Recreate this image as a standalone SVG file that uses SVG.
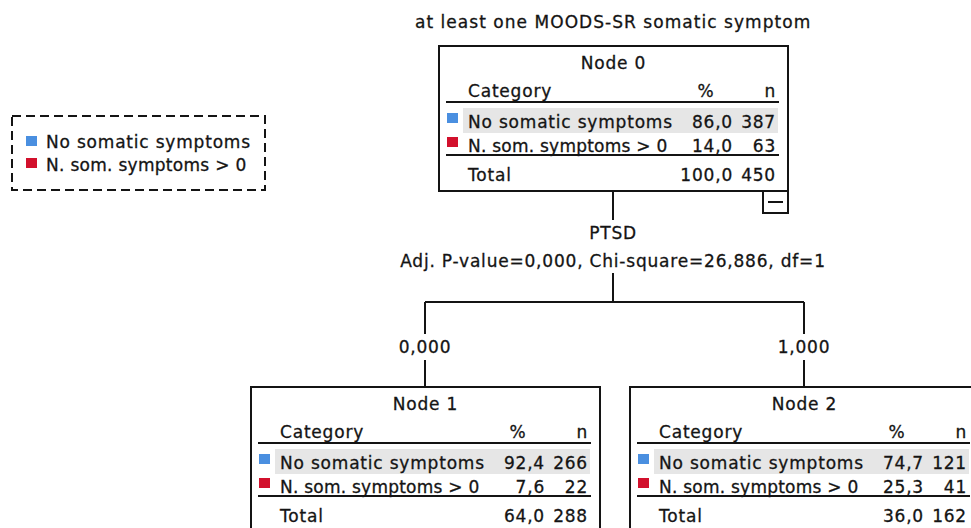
<svg xmlns="http://www.w3.org/2000/svg" width="971" height="528" viewBox="0 0 971 528">
  <style>
    text { font-family: "DejaVu Sans", Verdana, sans-serif; font-size: 17px; fill: #141414; stroke: #141414; stroke-width: 0.3px; letter-spacing: 0.8px; }
    .mid { text-anchor: middle; }
    .end { text-anchor: end; }
    .box { fill: #ffffff; stroke: #141414; stroke-width: 2; }
    .rule { stroke: #141414; stroke-width: 2; }
    .shade { fill: #e6e6e6; }
    .blue { fill: #4a8fe0; }
    .red { fill: #d2102c; }
    .conn { fill: none; stroke: #141414; stroke-width: 2; }
    .legend { fill: #ffffff; stroke: #141414; stroke-width: 2; stroke-dasharray: 9 5; }
  </style>

  <!-- Dependent variable title -->
  <text class="mid" x="613" y="28" textLength="396" lengthAdjust="spacing">at least one MOODS-SR somatic symptom</text>

  <!-- Legend -->
  <g id="legend">
    <rect class="legend" x="12" y="116" width="253" height="74"/>
    <rect class="blue" x="26" y="136" width="11" height="10"/>
    <text x="46" y="148">No somatic symptoms</text>
    <rect class="red" x="26" y="158" width="11" height="10"/>
    <text x="46" y="171" textLength="201" lengthAdjust="spacing">N. som. symptoms &gt; 0</text>
  </g>

  <!-- Connectors -->
  <g id="connectors">
    <path class="conn" d="M613,191 V220"/>
    <path class="conn" d="M613,273 V302 M425,302 H804 M425,302 V334 M804,302 V334"/>
    <path class="conn" d="M425,360 V387 M804,360 V387"/>
    <text class="mid" x="613" y="239">PTSD</text>
    <text class="mid" x="613" y="267">Adj. P-value=0,000, Chi-square=26,886, df=1</text>
    <text class="mid" x="425" y="353">0,000</text>
    <text class="mid" x="804" y="353">1,000</text>
  </g>

  <!-- Node 0 -->
  <g id="node0" transform="translate(439,46)">
    <rect class="box" x="0" y="0" width="349" height="145"/>
    <text class="mid" x="174.5" y="23">Node 0</text>
    <text x="29" y="51">Category</text>
    <text class="mid" x="267" y="51">%</text>
    <text class="end" x="337" y="51">n</text>
    <line class="rule" x1="7" y1="56" x2="340" y2="56"/>
    <rect class="shade" x="24" y="62" width="315" height="25"/>
    <rect class="blue" x="8" y="67" width="11" height="10"/>
    <text x="29" y="82">No somatic symptoms</text>
    <text class="end" x="294" y="82">86,0</text>
    <text class="end" x="337" y="82">387</text>
    <rect class="red" x="8" y="91" width="11" height="10"/>
    <text x="29" y="106" textLength="200" lengthAdjust="spacing">N. som. symptoms &gt; 0</text>
    <text class="end" x="294" y="106">14,0</text>
    <text class="end" x="337" y="106">63</text>
    <line class="rule" x1="7" y1="109" x2="340" y2="109"/>
    <text x="29" y="135">Total</text>
    <text class="end" x="294" y="135">100,0</text>
    <text class="end" x="337" y="135">450</text>
    <!-- collapse toggle -->
    <rect class="box" x="324" y="145" width="25" height="22"/>
    <line class="rule" x1="329" y1="156" x2="344" y2="156"/>
  </g>

  <!-- Node 1 -->
  <g id="node1" transform="translate(251,387)">
    <rect class="box" x="0" y="0" width="349" height="145"/>
    <text class="mid" x="174.5" y="23">Node 1</text>
    <text x="29" y="51">Category</text>
    <text class="mid" x="267" y="51">%</text>
    <text class="end" x="337" y="51">n</text>
    <line class="rule" x1="7" y1="56" x2="340" y2="56"/>
    <rect class="shade" x="24" y="62" width="315" height="25"/>
    <rect class="blue" x="8" y="67" width="11" height="10"/>
    <text x="29" y="82">No somatic symptoms</text>
    <text class="end" x="294" y="82">92,4</text>
    <text class="end" x="337" y="82">266</text>
    <rect class="red" x="8" y="91" width="11" height="10"/>
    <text x="29" y="106" textLength="200" lengthAdjust="spacing">N. som. symptoms &gt; 0</text>
    <text class="end" x="294" y="106">7,6</text>
    <text class="end" x="337" y="106">22</text>
    <line class="rule" x1="7" y1="109" x2="340" y2="109"/>
    <text x="29" y="135">Total</text>
    <text class="end" x="294" y="135">64,0</text>
    <text class="end" x="337" y="135">288</text>
  </g>

  <!-- Node 2 -->
  <g id="node2" transform="translate(630,387)">
    <rect class="box" x="0" y="0" width="349" height="145"/>
    <text class="mid" x="174.5" y="23">Node 2</text>
    <text x="29" y="51">Category</text>
    <text class="mid" x="267" y="51">%</text>
    <text class="end" x="337" y="51">n</text>
    <line class="rule" x1="7" y1="56" x2="340" y2="56"/>
    <rect class="shade" x="24" y="62" width="315" height="25"/>
    <rect class="blue" x="8" y="67" width="11" height="10"/>
    <text x="29" y="82">No somatic symptoms</text>
    <text class="end" x="294" y="82">74,7</text>
    <text class="end" x="337" y="82">121</text>
    <rect class="red" x="8" y="91" width="11" height="10"/>
    <text x="29" y="106" textLength="200" lengthAdjust="spacing">N. som. symptoms &gt; 0</text>
    <text class="end" x="294" y="106">25,3</text>
    <text class="end" x="337" y="106">41</text>
    <line class="rule" x1="7" y1="109" x2="340" y2="109"/>
    <text x="29" y="135">Total</text>
    <text class="end" x="294" y="135">36,0</text>
    <text class="end" x="337" y="135">162</text>
  </g>
</svg>
